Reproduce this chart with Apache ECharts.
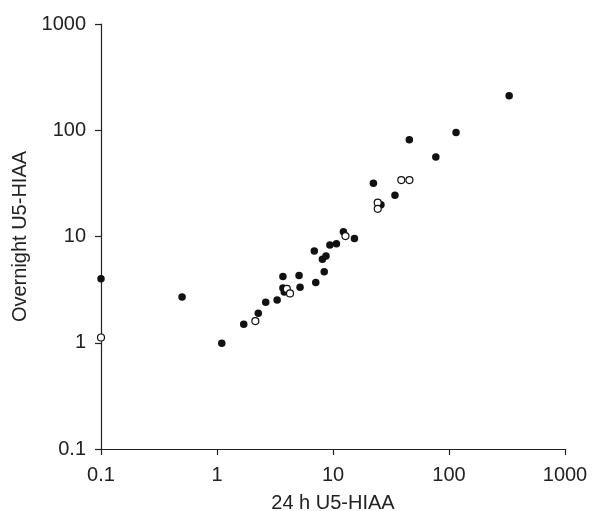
<!DOCTYPE html>
<html>
<head>
<meta charset="utf-8">
<script src="https://cdn.jsdelivr.net/npm/echarts@6/dist/echarts.min.js"></script>
<style>html,body{margin:0;padding:0;background:#fff}#c{width:607px;height:511px}</style>
</head>
<body>
<div id="c"></div>
<script>
// Filled circles: [24 h U5-HIAA, Overnight U5-HIAA]
const filledX = [0.1, 0.5, 1.1, 1.7, 2.27, 2.63, 3.3, 3.7, 5.1, 3.7, 3.8, 5.2, 7.1, 8.4, 8.1, 8.7, 6.9, 9.4, 10.7, 12.3, 15.3, 22.3, 25.9, 34.2, 45.5, 77, 115, 330];
const filledY = [4.0, 2.7, 0.99, 1.49, 1.9, 2.4, 2.53, 4.2, 4.3, 3.27, 3.0, 3.33, 3.7, 4.66, 6.1, 6.55, 7.3, 8.3, 8.55, 11.1, 9.6, 31.7, 19.9, 24.4, 81.5, 56, 95, 211];
// Open circles
const openX = [0.1, 2.14, 4.0, 4.26, 12.8, 24.3, 24.3, 38.8, 45.6];
const openY = [1.12, 1.6, 3.21, 2.91, 10.1, 20.8, 18.2, 34.0, 34.0];
const xTicks = ['0.1', '1', '10', '100', '1000'];
const yTicks = ['0.1', '1', '10', '100', '1000'];
const xTitle = '24 h U5-HIAA';
const yTitle = 'Overnight U5-HIAA';

const font = 'Liberation Sans, Arial, Helvetica, sans-serif';
const axisCol = '#222';
function pairs(xs, ys){ return xs.map((x,i)=>[x, ys[i]]); }
function fmt(list){ return v => { const s = String(+v.toPrecision(3)); return list.includes(s) ? s : ''; }; }

const chart = echarts.init(document.getElementById('c'));
chart.setOption({
  animation: false,
  backgroundColor: '#fff',
  grid: { left: 101, right: 42, top: 24, bottom: 62, containLabel: false, outerBoundsMode: 'none' },
  xAxis: {
    type: 'log', logBase: 10, min: 0.1, max: 1000,
    name: xTitle, nameLocation: 'middle', nameGap: 44,
    nameTextStyle: { fontFamily: font, fontSize: 20, color: axisCol },
    axisLine: { lineStyle: { color: axisCol, width: 1.2 } },
    axisTick: { show: true, length: 6, inside: false, lineStyle: { color: axisCol, width: 1.2 } },
    minorTick: { show: false },
    splitLine: { show: false },
    axisLabel: { fontFamily: font, fontSize: 20, color: axisCol, margin: 16, formatter: fmt(xTicks) }
  },
  yAxis: {
    type: 'log', logBase: 10, min: 0.1, max: 1000,
    name: yTitle, nameLocation: 'middle', nameGap: 70, nameRotate: 90,
    nameTextStyle: { fontFamily: font, fontSize: 20, color: axisCol },
    axisLine: { show: true, lineStyle: { color: axisCol, width: 1.2 } },
    axisTick: { show: true, length: 6, inside: false, lineStyle: { color: axisCol, width: 1.2 } },
    splitLine: { show: false },
    axisLabel: { fontFamily: font, fontSize: 20, color: axisCol, margin: 15, formatter: fmt(yTicks) }
  },
  series: [
    {
      type: 'scatter', name: 'filled', clip: false,
      data: pairs(filledX, filledY),
      symbol: 'circle', symbolSize: 7.5,
      itemStyle: { color: '#111', borderColor: '#111', borderWidth: 0, opacity: 1 }
    },
    {
      type: 'scatter', name: 'open', clip: false,
      data: pairs(openX, openY),
      symbol: 'circle', symbolSize: 7,
      itemStyle: { color: '#fff', borderColor: '#111', borderWidth: 1.2, opacity: 1 }
    }
  ]
});
</script>
</body>
</html>
